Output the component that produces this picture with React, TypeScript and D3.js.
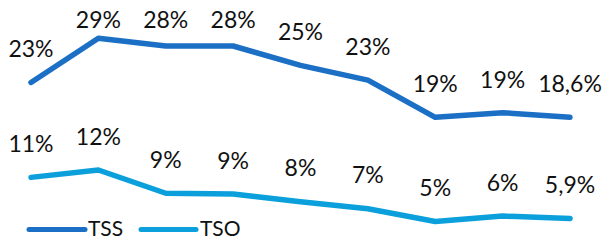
import React from "react";
import * as d3 from "d3";

const categories = ["1", "2", "3", "4", "5", "6", "7", "8", "9"];
const tssValues = [23.3, 29, 28, 28, 25.5, 23.6, 18.8, 19.4, 18.8];
const tsoValues = [11.05, 12, 9, 8.9, 7.9, 7, 5.35, 6.05, 5.75];
const tssLabels = ["23%", "29%", "28%", "28%", "25%", "23%", "19%", "19%", "18,6%"];
const tsoLabels = ["11%", "12%", "9%", "9%", "8%", "7%", "5%", "6%", "5,9%"];
const seriesNames = ["TSS", "TSO"];

const W = 603;
const H = 242;
const TSS_COLOR = "#1b6fc5";
const TSO_COLOR = "#0ba0db";
const FONT = "Lato, 'Open Sans', sans-serif";

export default function App() {
  const x = d3.scalePoint<string>().domain(categories).range([31, 570]);
  const y = d3.scaleLinear().domain([0, 30]).range([263, 30.5]);
  const line = d3
    .line<number>()
    .x((_, i) => x(categories[i]) as number)
    .y((d) => y(d));

  const series = [
    { name: seriesNames[0], values: tssValues, labels: tssLabels, color: TSS_COLOR, off: 25 },
    { name: seriesNames[1], values: tsoValues, labels: tsoLabels, color: TSO_COLOR, off: 25.5 },
  ];

  const legend = [
    { name: seriesNames[0], color: TSS_COLOR, x1: 29, x2: 85, tx: 88 },
    { name: seriesNames[1], color: TSO_COLOR, x1: 141, x2: 196, tx: 200 },
  ];

  return (
    <svg
      width={W}
      height={H}
      style={{ position: "absolute", left: 0, top: 0, display: "block", background: "#fff" }}
    >
      {series.map((s) => (
        <g key={s.name}>
          <path
            d={line(s.values) || ""}
            fill="none"
            stroke={s.color}
            strokeWidth={5.5}
            strokeLinejoin="round"
            strokeLinecap="round"
          />
          {s.values.map((v, i) => (
            <text
              key={i}
              x={x(categories[i]) as number}
              y={Math.max(28, y(v) - s.off)}
              textAnchor="middle"
              fontFamily={FONT}
              fontSize={23}
              fill="#111"
            >
              {s.labels[i]}
            </text>
          ))}
        </g>
      ))}
      {legend.map((l) => (
        <g key={l.name}>
          <line
            x1={l.x1}
            x2={l.x2}
            y1={229.5}
            y2={229.5}
            stroke={l.color}
            strokeWidth={5}
            strokeLinecap="round"
          />
          <text x={l.tx} y={235.5} fontFamily={FONT} fontSize={21} fill="#111">
            {l.name}
          </text>
        </g>
      ))}
    </svg>
  );
}
